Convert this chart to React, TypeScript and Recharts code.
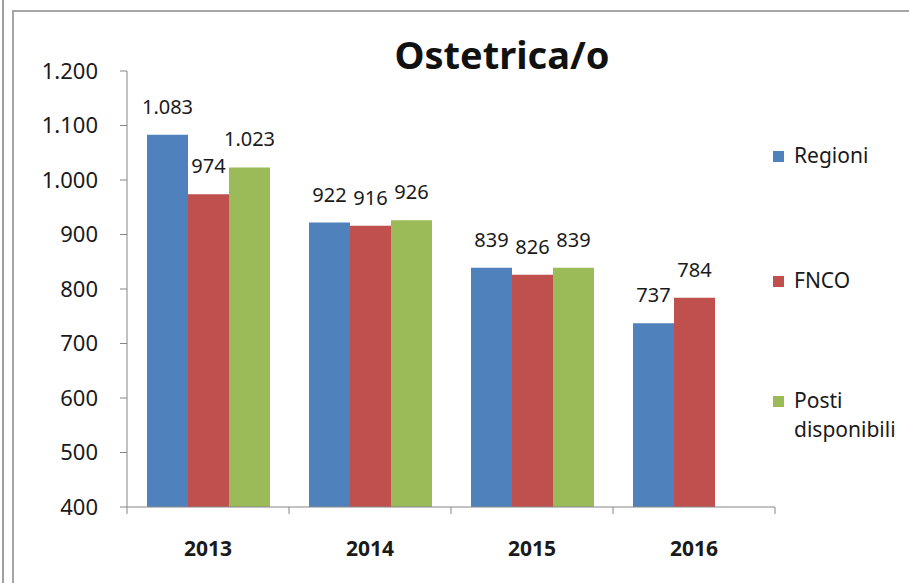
import { BarChart, Bar, XAxis, YAxis, Legend, LabelList } from 'recharts'

const YEARS = ['2013', '2014', '2015', '2016']
const REGIONI = [1083, 922, 839, 737]
const FNCO = [974, 916, 826, 784]
const POSTI = [1023, 926, 839, null]
const Y_TICKS = [400, 500, 600, 700, 800, 900, 1000, 1100, 1200]

const SERIES = [
  { key: 'regioni', name: 'Regioni', color: '#4F81BD' },
  { key: 'fnco', name: 'FNCO', color: '#C0504D' },
  { key: 'posti', name: 'Posti disponibili', color: '#9BBB59' },
]

const data = YEARS.map((year, i) => ({
  year,
  regioni: REGIONI[i],
  fnco: FNCO[i],
  posti: POSTI[i],
}))

const FONT = '"Noto Sans", sans-serif'
const AXIS = '#868686'

// italian thousands separator: 1083 -> 1.083
function fmt(v: number | string | null | undefined) {
  if (v === null || v === undefined || v === '') return ''
  const n = Number(v)
  if (n < 1000) return String(n)
  return `${Math.floor(n / 1000)}.${String(n % 1000).padStart(3, '0')}`
}

function YearTick(props: any) {
  const { x, y, payload, index, visibleTicksCount } = props
  const half = payload?.offset ?? 81
  const last = index === (visibleTicksCount ?? YEARS.length) - 1
  return (
    <g>
      <line x1={x - half} x2={x - half} y1={y} y2={y + 7} stroke={AXIS} />
      {last && <line x1={x + half} x2={x + half} y1={y} y2={y + 7} stroke={AXIS} />}
      <text
        x={x}
        y={y + 41}
        textAnchor="middle"
        dominantBaseline="central"
        fontFamily={FONT}
        fontWeight="bold"
        fontSize={21}
        fill="#1a1a1a"
      >
        {payload.value}
      </text>
    </g>
  )
}

// legend rows sit at fixed heights like in the sheet
const LEGEND_TOPS = [141, 266, 386]

function SideLegend() {
  return (
    <div style={{ position: 'relative', width: 134, height: 583, fontFamily: FONT }}>
      {SERIES.map((s, i) => (
        <div
          key={s.key}
          style={{ position: 'absolute', left: -2, top: LEGEND_TOPS[i], display: 'flex', alignItems: 'flex-start' }}
        >
          <span
            style={{ width: 11, height: 11, background: s.color, marginTop: 10, marginRight: 10, flex: 'none' }}
          />
          <span style={{ fontSize: 21, lineHeight: '29px', color: '#1a1a1a', width: 115 }}>
            {s.name.split(' ').map((w) => (
              <div key={w}>{w}</div>
            ))}
          </span>
        </div>
      ))}
    </div>
  )
}

export default function App() {
  return (
    <div style={{ position: 'absolute', left: 0, top: 0, width: 909, height: 583, background: '#fff', overflow: 'hidden' }}>
      <div style={{ position: 'absolute', left: 2, top: 0, width: 2, height: 583, background: '#a0a0a0' }} />
      <div style={{ position: 'absolute', left: 12, top: 10, width: 897, height: 573, borderLeft: '2px solid #a6a6a6', borderTop: '2px solid #a6a6a6' }} />
      <div
        style={{
          position: 'absolute',
          left: 0,
          width: 1004,
          top: 30,
          textAlign: 'center',
          fontFamily: FONT,
          fontWeight: 'bold',
          fontSize: 38,
          lineHeight: '48px',
          color: '#111',
        }}
      >
        Ostetrica/o
      </div>
      <div style={{ position: 'absolute', left: 0, top: 0 }}>
        <BarChart
          width={909}
          height={583}
          data={data}
          margin={{ top: 71, right: 0, bottom: 0, left: 0 }}
          barCategoryGap={20}
          barGap={0}
        >
          <YAxis
            width={127}
            domain={[400, 1200]}
            ticks={Y_TICKS}
            interval={0}
            allowDataOverflow
            tickFormatter={fmt}
            tickSize={7}
            tickMargin={22}
            stroke={AXIS}
            tick={{ fill: '#1a1a1a', fontSize: 22, fontFamily: FONT }}
          />
          <XAxis
            dataKey="year"
            stroke={AXIS}
            tickLine={false}
            tickSize={0}
            tickMargin={0}
            height={76}
            interval={0}
            tick={<YearTick />}
          />
          <Legend
            layout="vertical"
            align="right"
            verticalAlign="top"
            wrapperStyle={{ position: 'absolute', left: 775, top: 0, width: 134, height: 583 }}
            content={() => <SideLegend />}
          />
          {SERIES.map((s) => (
            <Bar key={s.key} dataKey={s.key} name={s.name} fill={s.color} isAnimationActive={false}>
              <LabelList
                dataKey={s.key}
                position="top"
                offset={21}
                formatter={fmt}
                fill="#1a1a1a"
                fontSize={20}
                fontFamily={FONT}
              />
            </Bar>
          ))}
        </BarChart>
      </div>
    </div>
  )
}
